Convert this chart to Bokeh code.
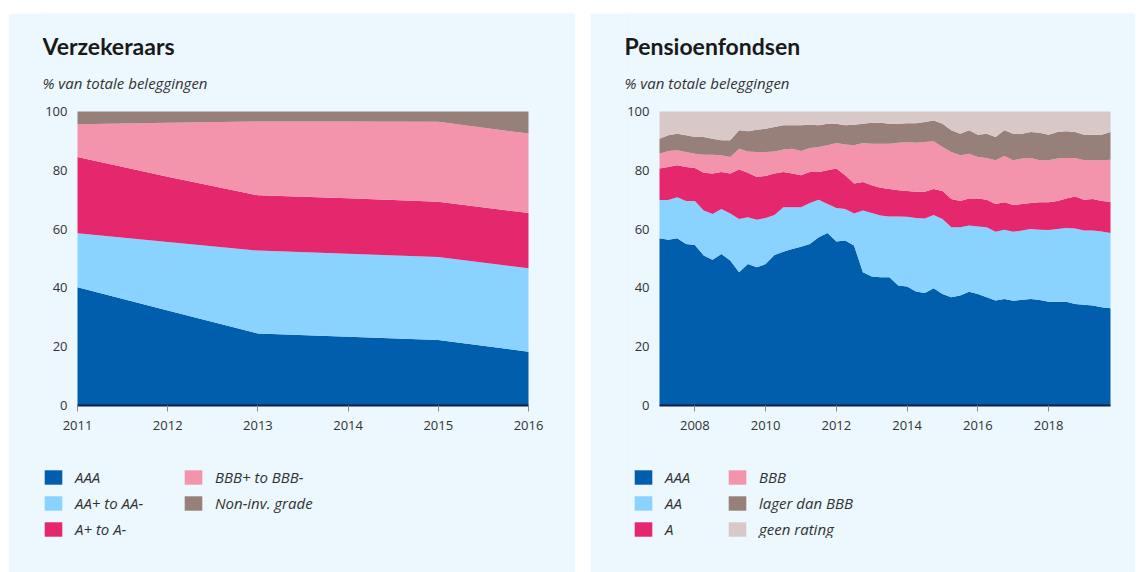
import numpy as np
from bokeh.plotting import figure
from bokeh.models import Label, Legend, LegendItem, FixedTicker, Range1d, Spacer
from bokeh.layouts import row, column
from bokeh.embed import file_html
from bokeh.resources import INLINE

# ---------------- data: Verzekeraars (annual, % of total investments) ----------------
ins_years = [2011, 2012, 2013, 2014, 2015, 2016]
ins_aaa = [40.2, 32.3, 24.5, 23.4, 22.3, 18.3]
ins_aa = [18.4, 23.3, 28.2, 28.2, 28.2, 28.4]
ins_a = [25.9, 22.2, 18.8, 18.9, 18.8, 18.8]
ins_bbb = [11.2, 18.4, 25.1, 26.1, 27.2, 27.0]
ins_nonig = [4.3, 3.8, 3.4, 3.4, 3.5, 7.5]
ins_labels = ["AAA", "AA+ to AA-", "A+ to A-", "BBB+ to BBB-", "Non-inv. grade"]
ins_ticks = [2011, 2012, 2013, 2014, 2015, 2016]

# ---------------- data: Pensioenfondsen (quarterly, cumulative upper edges) ----------------
pf_start, pf_end, pf_count = 2007, 2019.75, 52
pf_x = [pf_start + q / 4 for q in range(pf_count)]
pf_top_aaa = [56.9, 56.4, 56.9, 54.9, 54.6, 51.0, 49.6, 51.5, 49.3, 45.3, 48.1, 47.0,
              48.1, 51.2, 52.3, 53.2, 54.0, 54.9, 57.2, 58.7, 55.8, 56.1, 54.4, 45.3,
              43.9, 43.6, 43.6, 40.8, 40.5, 38.8, 38.3, 39.9, 37.9, 36.8, 37.4, 38.7,
              37.9, 36.8, 35.7, 36.2, 35.6, 36.0, 36.2, 35.9, 35.3, 35.3, 35.3, 34.5,
              34.3, 34.0, 33.4, 33.1]
pf_top_aa = [69.9, 69.9, 70.8, 69.6, 69.6, 66.3, 65.1, 66.8, 65.3, 63.4, 64.0, 63.2,
             63.8, 64.8, 67.4, 67.4, 67.4, 68.9, 70.0, 68.5, 67.2, 66.8, 65.3, 66.3,
             65.5, 64.6, 64.3, 64.3, 64.2, 63.8, 63.6, 64.8, 63.4, 60.6, 60.6, 61.2,
             60.9, 60.6, 59.1, 59.8, 59.1, 59.5, 60.0, 59.8, 59.7, 60.0, 60.4, 60.2,
             59.5, 59.5, 59.2, 58.7]
pf_top_a = [80.6, 81.1, 81.7, 81.1, 80.8, 79.2, 78.9, 79.4, 78.9, 80.3, 79.2, 77.7,
            78.1, 78.9, 79.4, 78.9, 78.3, 79.4, 79.4, 80.0, 80.6, 78.3, 75.5, 76.0,
            74.9, 74.1, 73.6, 73.2, 73.0, 72.7, 72.7, 73.6, 73.0, 70.2, 69.6, 70.4,
            70.4, 70.0, 68.5, 69.1, 68.2, 68.5, 68.9, 69.1, 69.1, 69.6, 70.4, 71.1,
            70.0, 70.2, 69.6, 69.3]
pf_top_bbb = [85.6, 86.6, 86.8, 86.2, 85.6, 85.3, 85.3, 85.1, 84.5, 87.3, 86.4, 86.2,
              86.2, 86.4, 87.1, 87.3, 86.6, 87.6, 87.9, 88.5, 89.3, 88.8, 88.5, 89.3,
              89.0, 89.0, 89.0, 89.4, 89.6, 89.4, 89.6, 89.9, 87.9, 86.2, 85.1, 85.6,
              84.5, 84.2, 83.4, 84.9, 83.4, 84.0, 84.2, 83.4, 83.4, 84.0, 84.2, 84.2,
              83.4, 83.4, 83.4, 83.6]
pf_top_lower = [90.7, 91.9, 92.4, 91.9, 91.3, 91.3, 90.7, 90.2, 90.2, 93.6, 93.3, 93.8,
                94.1, 94.7, 95.3, 95.3, 95.3, 95.5, 95.3, 95.8, 95.8, 95.3, 95.5, 95.8,
                96.2, 96.2, 95.8, 95.8, 96.0, 96.0, 96.4, 96.9, 95.8, 93.6, 92.4, 93.6,
                92.1, 92.4, 91.3, 93.6, 92.4, 92.4, 93.0, 92.8, 92.1, 93.0, 93.3, 93.0,
                92.1, 92.1, 92.1, 93.0]
pf_top_norating = [100.0] * pf_count
pf_labels = ["AAA", "AA", "A", "BBB", "lager dan BBB", "geen rating"]
pf_ticks = [2008, 2010, 2012, 2014, 2016, 2018]

colors = ["#005EAD", "#8AD2FF", "#E5276D", "#F394AC", "#968079", "#D9C8C8"]
BG = "#ECF7FE"
FONT = "Open Sans"
TXT = "#333333"

# ---------------- layout geometry (pixels) ----------------
BORDER_L, BORDER_B = 34, 34        # space kept for the axes
FIG_H = 559
FRAME_H = FIG_H - BORDER_B         # frame covers the whole panel above the x-axis strip
CHART_LEFT = 35                    # plot area starts this far right of the frame's left edge
CHART_W = 451                      # plot area width
CHART_TOP = 98                     # plot area top below frame top
CHART_H = 294                      # plot area height


def chart(width, x0, x1, ticks, title, labels, legend_dx, label_width):
    frame_w = width - BORDER_L
    xs = CHART_W / (x1 - x0)
    ys = CHART_H / 100.0
    xr = Range1d(x0 - CHART_LEFT / xs, x1 + (frame_w - CHART_LEFT - CHART_W) / xs)
    below = FRAME_H - CHART_TOP - CHART_H
    yr = Range1d(-below / ys, 100 + CHART_TOP / ys)
    p = figure(frame_width=frame_w, frame_height=FRAME_H,
               min_border_left=BORDER_L, min_border_right=0,
               min_border_top=0, min_border_bottom=BORDER_B,
               x_range=xr, y_range=yr,
               output_backend="svg", toolbar_location=None,
               background_fill_color=BG, border_fill_color=BG)
    p.outline_line_color = None
    p.grid.grid_line_color = None
    # y axis, drawn along the left edge of the plot area
    p.yaxis.fixed_location = x0
    p.yaxis.bounds = (0, 100)
    p.yaxis.ticker = FixedTicker(ticks=[0, 20, 40, 60, 80, 100])
    p.yaxis.axis_line_color = None
    p.yaxis.major_tick_line_color = None
    p.yaxis.minor_tick_line_color = None
    p.yaxis.major_tick_out = 0
    p.yaxis.major_tick_in = 0
    p.yaxis.major_label_standoff = 10
    # x axis, drawn along y = 0
    p.xaxis.fixed_location = 0
    p.xaxis.bounds = (x0, x1)
    p.xaxis.ticker = FixedTicker(ticks=ticks)
    p.xaxis.axis_line_color = "#0d2240"
    p.xaxis.axis_line_width = 2
    p.xaxis.major_tick_line_color = "#8a8a8a"
    p.xaxis.major_tick_out = 6
    p.xaxis.major_tick_in = 0
    p.xaxis.minor_tick_line_color = None
    p.xaxis.major_label_standoff = 9
    for ax in (p.xaxis, p.yaxis):
        ax.major_label_text_font = FONT
        ax.major_label_text_font_size = "13px"
        ax.major_label_text_color = TXT
    # titles (screen units from the frame's bottom-left corner)
    p.add_layout(Label(x=0, y=FRAME_H - 32, x_units="screen", y_units="screen",
                       text=title, text_font="Lato", text_font_style="bold",
                       text_font_size="23px", text_color="#1a1a1a",
                       text_baseline="alphabetic"))
    p.add_layout(Label(x=0, y=FRAME_H - 69, x_units="screen", y_units="screen",
                       text="% van totale beleggingen", text_font=FONT,
                       text_font_style="italic", text_font_size="15px",
                       text_color=TXT, text_baseline="alphabetic"))
    p._legend_args = (labels, legend_dx, label_width)
    return p


def add_legend(p, renderers):
    labels, dx, label_width = p._legend_args
    items = [LegendItem(label=lab, renderers=[r]) for r, lab in zip(renderers, labels)]
    leg = Legend(items=items, location=(dx, -1), orientation="vertical", nrows=3,
                 glyph_width=22, glyph_height=18, label_standoff=11,
                 label_width=label_width, label_height=18, spacing=6,
                 padding=0, margin=0, border_line_color=None,
                 background_fill_alpha=0,
                 label_text_font=FONT, label_text_font_style="italic",
                 label_text_font_size="15px", label_text_color=TXT)
    p.add_layout(leg, "center")


# ---------------- left panel ----------------
p1 = chart(567, ins_years[0], ins_years[-1], ins_ticks, "Verzekeraars", ins_labels, 0, 101)
lower = np.zeros(len(ins_years))
rs1 = []
for vals, col in zip([ins_aaa, ins_aa, ins_a, ins_bbb, ins_nonig], colors):
    upper = lower + np.array(vals)
    rs1.append(p1.varea(x=ins_years, y1=lower, y2=upper, fill_color=col))
    lower = upper
add_legend(p1, rs1)

# ---------------- right panel ----------------
p2 = chart(545, pf_start, pf_end, pf_ticks, "Pensioenfondsen", pf_labels, 8, 55)
lower = np.zeros(pf_count)
rs2 = []
for tops, col in zip([pf_top_aaa, pf_top_aa, pf_top_a, pf_top_bbb, pf_top_lower,
                      pf_top_norating], colors):
    upper = np.array(tops)
    rs2.append(p2.varea(x=pf_x, y1=lower, y2=upper, fill_color=col))
    lower = upper
add_legend(p2, rs2)

layout = column(Spacer(height=13),
                row(Spacer(width=8), p1, Spacer(width=15), p2))

open("out.html", "w").write(file_html(layout, INLINE))
